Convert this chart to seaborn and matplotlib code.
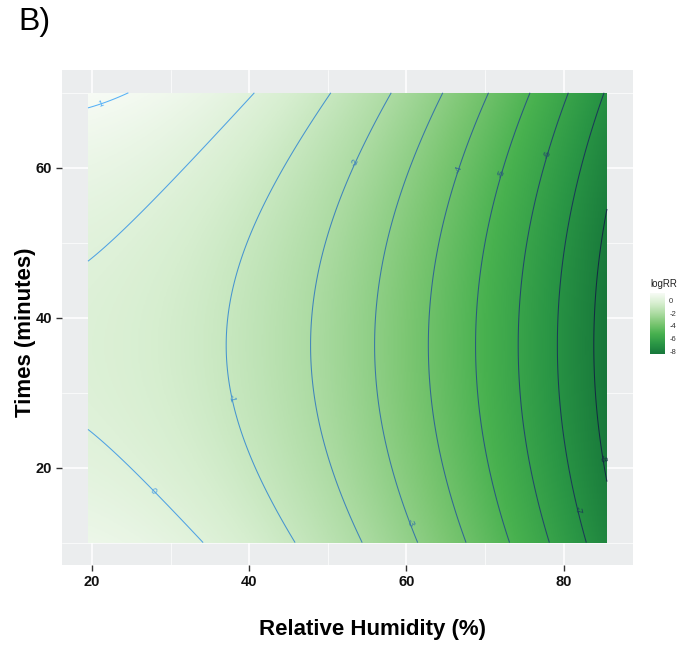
import numpy as np
import matplotlib
matplotlib.use("Agg")
import matplotlib.pyplot as plt
import seaborn as sns
from matplotlib.colors import LinearSegmentedColormap, Normalize

# Fitted response surface for logRR (quadratic in RH and time),
# coefficients read back from where the contour lines cross the panel edges
rh_range = [19.5, 85.5]
time_range = [10, 70]
coef_terms = ["intercept", "rh", "rh^2", "time", "time^2"]
coef_values = [1.175, 0.0401, -0.00157, -0.0828, 0.00114]

contour_levels = [-8, -7, -6, -5, -4, -3, -2, -1, 0, 1]
fill_ticks = [0, -2, -4, -6, -8]
x_ticks = [20, 40, 60, 80]
y_ticks = [20, 40, 60]

# dark green (low) -> white (high)
fill_colors = ["#17773a", "#2a9645", "#48b14f", "#7bc672", "#acdba2", "#d6eecf", "#f7fbf5"]
# ggplot default continuous colour scale for the contour lines
line_colors = ["#132b43", "#56b1f7"]

sns.set_theme(style="darkgrid")
plt.rcParams['font.family'] = ['Liberation Sans', 'DejaVu Sans']
plt.rcParams['axes.unicode_minus'] = False


def log_rr(rh, t):
    b0, b1, b2, b3, b4 = coef_values
    return b0 + b1 * rh + b2 * rh ** 2 + b3 * t + b4 * t ** 2


rh = np.linspace(rh_range[0], rh_range[1], 400)
tm = np.linspace(time_range[0], time_range[1], 400)
RH, TM = np.meshgrid(rh, tm)
Z = log_rr(RH, TM)

fill_cmap = LinearSegmentedColormap.from_list("greens", fill_colors)
line_cmap = LinearSegmentedColormap.from_list("blues", line_colors)
norm = Normalize(vmin=Z.min(), vmax=Z.max())

fig = plt.figure(figsize=(6.97, 6.51), dpi=100)
ax = fig.add_axes([0.089, 0.132, 0.819, 0.760])
ax.set_facecolor("#ebedee")

img = ax.imshow(Z, extent=[rh_range[0], rh_range[1], time_range[0], time_range[1]],
                origin="lower", aspect="auto", cmap=fill_cmap, norm=norm,
                interpolation="bilinear", zorder=1)
cs = ax.contour(RH, TM, Z, levels=contour_levels, cmap=line_cmap,
                linewidths=0.75, zorder=2)

# one label per contour, near where the original placed them
label_spots = [(21.7, 67.0), (28.6, 17.7), (38.2, 29.3), (54.9, 60.0), (61.8, 13.1),
               (65.9, 60.0), (73.3, 58.9), (78.4, 61.6), (82.7, 14.6), (85.2, 21.2)]
ax.clabel(cs, fmt="%d", fontsize=6.5, inline=False, manual=label_spots)

# 5% expansion like ggplot
dx = 0.05 * (rh_range[1] - rh_range[0])
dy = 0.05 * (time_range[1] - time_range[0])
ax.set_xlim(rh_range[0] - dx, rh_range[1] + dx)
ax.set_ylim(time_range[0] - dy, time_range[1] + dy)

ax.set_xticks(x_ticks)
ax.set_yticks(y_ticks)
ax.set_xticks([30, 50, 70], minor=True)
ax.set_yticks([10, 30, 50, 70], minor=True)
ax.grid(which="major", color="white", linewidth=1.1)
ax.grid(which="minor", color="white", linewidth=0.5)
ax.set_axisbelow(True)
for s in ax.spines.values():
    s.set_visible(False)

ax.tick_params(which="major", direction="out", length=4, width=1, color="#333333",
               labelsize=10.5, labelcolor="#111111", pad=3, bottom=True, left=True)
ax.tick_params(which="minor", length=0)
for lab in ax.get_xticklabels() + ax.get_yticklabels():
    lab.set_fontweight("bold")

ax.set_xlabel("Relative Humidity (%)", fontsize=16, fontweight="bold", color="black")
ax.set_ylabel("Times (minutes)", fontsize=16, fontweight="bold", color="black")
ax.xaxis.set_label_coords(0.543, -0.11)
ax.yaxis.set_label_coords(-0.045, 0.47)

fig.text(18 / 697, 1 - 30 / 651, "B)", fontsize=23, va="baseline", ha="left", color="black")

# colourbar legend
cax = fig.add_axes([650 / 697, 1 - 354 / 651, 15 / 697, 61 / 651])
cb = fig.colorbar(img, cax=cax, ticks=fill_ticks)
cb.outline.set_visible(False)
cax.tick_params(direction="in", length=3, width=0.6, color="white",
                labelsize=5.5, labelcolor="#333333", pad=3)
cax.set_title("logRR", fontsize=7, loc="left", pad=4, color="#222222")

fig.savefig("out.png", dpi=100)
